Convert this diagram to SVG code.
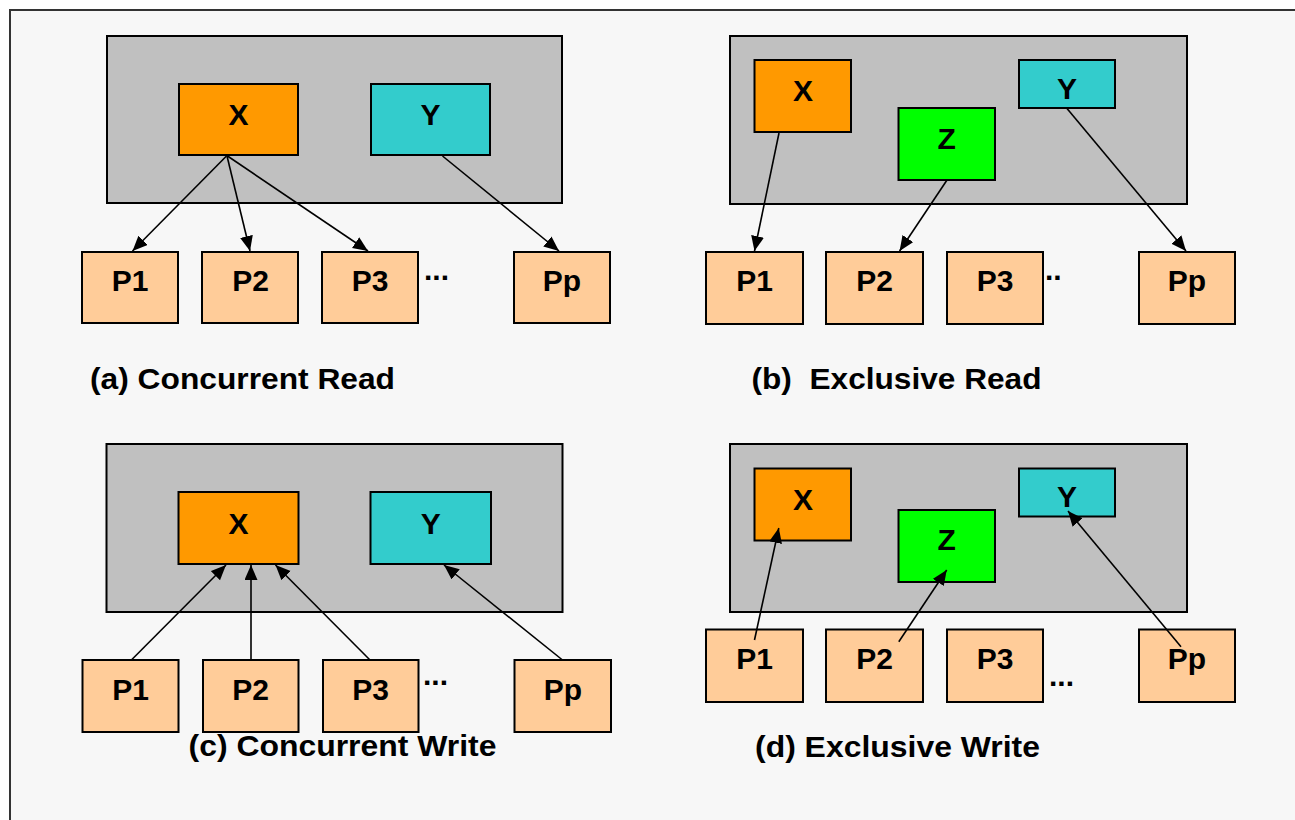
<svg xmlns="http://www.w3.org/2000/svg" width="1295" height="820" viewBox="0 0 1295 820">
  <defs>
    <style>
      .frame { fill: #f7f7f7; stroke: #333333; stroke-width: 2; }
      .mem { fill: #c0c0c0; stroke: #000000; stroke-width: 2; }
      .cx { fill: #ff9900; stroke: #000000; stroke-width: 2; }
      .cy { fill: #33cccc; stroke: #000000; stroke-width: 2; }
      .cz { fill: #00ff00; stroke: #000000; stroke-width: 2; }
      .proc { fill: #ffcc99; stroke: #000000; stroke-width: 2; }
      .lbl { font-family: "Liberation Sans", Arial, sans-serif; font-weight: bold; font-size: 30px; fill: #000000; text-anchor: middle; }
      .dots { font-family: "Liberation Sans", Arial, sans-serif; font-weight: bold; font-size: 30px; fill: #000000; }
      .cap { font-family: "Liberation Sans", Arial, sans-serif; font-weight: bold; font-size: 30px; fill: #000000; }
      .edge { stroke: #000000; stroke-width: 1.6; fill: none; marker-end: url(#arrow); }
    </style>
    <marker id="arrow" markerUnits="userSpaceOnUse" markerWidth="16" markerHeight="14" refX="15" refY="6.5" orient="auto">
      <path d="M0,0 L15,6.5 L0,13 z" fill="#000000"/>
    </marker>
  </defs>

  <!-- page background and frame -->
  <rect x="0" y="0" width="1295" height="820" fill="#ffffff"/>
  <rect class="frame" x="10" y="10" width="1300" height="830"/>

  <!-- (a) Concurrent Read -->
  <g id="panel-a">
    <rect class="mem" x="107" y="36" width="455" height="167"/>
    <g id="a-x"><rect class="cx" x="179" y="84" width="119" height="71"/><text class="lbl" x="238.5" y="125">X</text></g>
    <g id="a-y"><rect class="cy" x="371" y="84" width="119" height="71"/><text class="lbl" x="430.5" y="125">Y</text></g>
    <g id="a-p1"><rect class="proc" x="82" y="252" width="96" height="71"/><text class="lbl" x="130" y="291">P1</text></g>
    <g id="a-p2"><rect class="proc" x="202" y="252" width="96" height="71"/><text class="lbl" x="250.5" y="291">P2</text></g>
    <g id="a-p3"><rect class="proc" x="322" y="252" width="96" height="71"/><text class="lbl" x="370" y="291">P3</text></g>
    <g id="a-pp"><rect class="proc" x="514" y="252" width="96" height="71"/><text class="lbl" x="562" y="291">Pp</text></g>
    <text class="dots" x="424" y="280">...</text>
    <text class="cap" x="90" y="389" textLength="305" lengthAdjust="spacingAndGlyphs">(a) Concurrent Read</text>
  </g>

  <!-- (b) Exclusive Read -->
  <g id="panel-b">
    <rect class="mem" x="730" y="36" width="457" height="168"/>
    <g id="b-x"><rect class="cx" x="754.5" y="60" width="96.5" height="72"/><text class="lbl" x="803" y="101">X</text></g>
    <g id="b-z"><rect class="cz" x="898.5" y="108" width="96.5" height="72"/><text class="lbl" x="946.7" y="148.5">Z</text></g>
    <g id="b-y"><rect class="cy" x="1019" y="60" width="96" height="48"/><text class="lbl" x="1067" y="98.5">Y</text></g>
    <g id="b-p1"><rect class="proc" x="706" y="252" width="97" height="72"/><text class="lbl" x="754.5" y="291">P1</text></g>
    <g id="b-p2"><rect class="proc" x="826" y="252" width="97" height="72"/><text class="lbl" x="874.5" y="291">P2</text></g>
    <g id="b-p3"><rect class="proc" x="947" y="252" width="96" height="72"/><text class="lbl" x="995" y="291">P3</text></g>
    <g id="b-pp"><rect class="proc" x="1139" y="252" width="96" height="72"/><text class="lbl" x="1187" y="291">Pp</text></g>
    <text class="dots" x="1045" y="280">..</text>
    <text class="cap" x="751.5" y="389" textLength="290" lengthAdjust="spacingAndGlyphs">(b)&#160; Exclusive Read</text>
  </g>

  <!-- (c) Concurrent Write -->
  <g id="panel-c">
    <rect class="mem" x="106.5" y="444" width="456" height="168"/>
    <g id="c-x"><rect class="cx" x="178.5" y="492" width="120" height="72"/><text class="lbl" x="238.5" y="533.5">X</text></g>
    <g id="c-y"><rect class="cy" x="370.5" y="492" width="120.5" height="72"/><text class="lbl" x="430.7" y="533.5">Y</text></g>
    <g id="c-p1"><rect class="proc" x="82.5" y="660" width="96" height="72"/><text class="lbl" x="130.5" y="699.5">P1</text></g>
    <g id="c-p2"><rect class="proc" x="203" y="660" width="95.5" height="72"/><text class="lbl" x="250.7" y="699.5">P2</text></g>
    <g id="c-p3"><rect class="proc" x="323" y="660" width="95.5" height="72"/><text class="lbl" x="370.5" y="699.5">P3</text></g>
    <g id="c-pp"><rect class="proc" x="514.5" y="660" width="96.5" height="72"/><text class="lbl" x="562.8" y="699.5">Pp</text></g>
    <text class="dots" x="423" y="685">...</text>
    <text class="cap" x="188.5" y="756" textLength="308" lengthAdjust="spacingAndGlyphs">(c) Concurrent Write</text>
  </g>

  <!-- (d) Exclusive Write -->
  <g id="panel-d">
    <rect class="mem" x="730" y="444" width="457" height="168"/>
    <g id="d-x"><rect class="cx" x="754.5" y="468.5" width="96.5" height="72"/><text class="lbl" x="803" y="509.5">X</text></g>
    <g id="d-z"><rect class="cz" x="898.5" y="510" width="96.5" height="72"/><text class="lbl" x="946.7" y="550.3">Z</text></g>
    <g id="d-y"><rect class="cy" x="1019" y="468.5" width="96" height="48"/><text class="lbl" x="1067" y="507">Y</text></g>
    <g id="d-p1"><rect class="proc" x="706" y="629.5" width="97" height="72.5"/><text class="lbl" x="754.5" y="668.5">P1</text></g>
    <g id="d-p2"><rect class="proc" x="826" y="629.5" width="97" height="72.5"/><text class="lbl" x="874.5" y="668.5">P2</text></g>
    <g id="d-p3"><rect class="proc" x="947" y="629.5" width="96" height="72.5"/><text class="lbl" x="995" y="668.5">P3</text></g>
    <g id="d-pp"><rect class="proc" x="1139" y="629.5" width="96" height="72.5"/><text class="lbl" x="1187" y="668.5">Pp</text></g>
    <text class="dots" x="1049" y="686">...</text>
    <text class="cap" x="755" y="757" textLength="285" lengthAdjust="spacingAndGlyphs">(d) Exclusive Write</text>
  </g>

  <!-- connectors -->
  <g id="connectors">
    <!-- (a) reads: X to P1..P3, Y to Pp -->
    <line class="edge" x1="226.5" y1="156" x2="132.5" y2="251"/>
    <line class="edge" x1="227" y1="156" x2="250" y2="251"/>
    <line class="edge" x1="227.5" y1="156" x2="368" y2="251"/>
    <line class="edge" x1="442.5" y1="156" x2="559" y2="251"/>
    <!-- (b) reads: each cell to one processor -->
    <line class="edge" x1="779" y1="133" x2="754.5" y2="251"/>
    <line class="edge" x1="946.7" y1="180.5" x2="899.6" y2="251"/>
    <line class="edge" x1="1067" y1="108.5" x2="1186" y2="251"/>
    <!-- (c) writes: P1..P3 to X, Pp to Y -->
    <line class="edge" x1="131.4" y1="660" x2="226" y2="565"/>
    <line class="edge" x1="251" y1="660" x2="251" y2="565"/>
    <line class="edge" x1="370" y1="660" x2="275.5" y2="565"/>
    <line class="edge" x1="562.5" y1="660" x2="444" y2="565"/>
    <!-- (d) writes: each processor to one cell -->
    <line class="edge" x1="754.5" y1="640" x2="778.8" y2="528"/>
    <line class="edge" x1="898.8" y1="641.7" x2="946.7" y2="570"/>
    <line class="edge" x1="1181" y1="646.7" x2="1068" y2="511"/>
  </g>
</svg>
